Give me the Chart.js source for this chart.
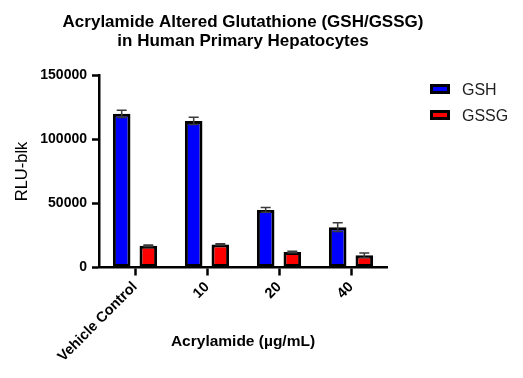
<!DOCTYPE html>
<html>
    <head>
        <title>Glutathione Chart</title>
        <meta charset="UTF-8">
        <style>
            body {
                margin: 0;
                background: white;
            }
            #chart-holder {
                position: relative;
                width: 523px;
                height: 378px;
            }
            #legend-holder {
                position: absolute;
                left: 430px;
                top: 84px;
                font-family: "Liberation Sans", Arial, sans-serif;
                font-size: 16px;
                color: #222;
            }
            .legend-item {
                position: relative;
                height: 26px;
            }
            .legend-box {
                position: absolute;
                left: 0;
                top: 0;
                width: 20px;
                height: 10px;
                border: 3px solid black;
                box-sizing: border-box;
            }
            .legend-text {
                position: absolute;
                left: 32px;
                top: -3px;
                white-space: nowrap;
            }
        </style>
    </head>
    <body>
        <div id="chart-holder">
            <canvas id="grafica-gsh" width="523" height="378"></canvas>
            <div id="legend-holder"></div>
        </div>

        <script src="https://cdn.jsdelivr.net/npm/chart.js@4.4.1/dist/chart.umd.min.js"></script>
        <script>
            // values
            var categories = ["Vehicle Control", "10", "20", "40"];
            var gshValues = [120000, 114500, 45000, 31500];
            var gshSd = [2900, 2900, 1800, 3400];
            var gssgValues = [17000, 18000, 12100, 9500];
            var gssgSd = [600, 500, 550, 1800];
            var yTicks = [0, 50000, 100000, 150000];

            Chart.defaults.font.family = "'Liberation Sans', Arial, sans-serif";
            Chart.defaults.color = "#000";

            // error bars (mean +/- SD) drawn on top of the bars
            var errorBars = {
                id: "errorBars",
                afterDatasetsDraw: function (chart) {
                    var ctx = chart.ctx;
                    var yScale = chart.scales.y;
                    ctx.save();
                    ctx.strokeStyle = "#3a3a3a";
                    ctx.lineWidth = 1.5;
                    chart.data.datasets.forEach(function (ds, di) {
                        var meta = chart.getDatasetMeta(di);
                        meta.data.forEach(function (bar, i) {
                            var hi = yScale.getPixelForValue(ds.data[i] + ds.sd[i]);
                            var lo = yScale.getPixelForValue(ds.data[i] - ds.sd[i]);
                            ctx.beginPath();
                            ctx.moveTo(bar.x, hi);
                            ctx.lineTo(bar.x, lo);
                            ctx.moveTo(bar.x - 5, hi);
                            ctx.lineTo(bar.x + 5, hi);
                            ctx.moveTo(bar.x - 5, lo);
                            ctx.lineTo(bar.x + 5, lo);
                            ctx.stroke();
                        });
                    });
                    ctx.restore();
                }
            };

            // html legend built from the datasets
            var htmlLegend = {
                id: "htmlLegend",
                afterUpdate: function (chart) {
                    var holder = document.getElementById("legend-holder");
                    holder.innerHTML = "";
                    chart.data.datasets.forEach(function (ds) {
                        var item = document.createElement("div");
                        item.className = "legend-item";
                        var box = document.createElement("span");
                        box.className = "legend-box";
                        box.style.background = ds.backgroundColor;
                        var text = document.createElement("span");
                        text.className = "legend-text";
                        text.textContent = ds.label;
                        item.appendChild(box);
                        item.appendChild(text);
                        holder.appendChild(item);
                    });
                }
            };

            var chartCtx = document.getElementById("grafica-gsh").getContext("2d");
            var gshChart = new Chart(chartCtx, {
                type: "bar",
                data: {
                    labels: categories,
                    datasets: [{
                            label: "GSH",
                            data: gshValues,
                            sd: gshSd,
                            backgroundColor: "#0000ff",
                            borderColor: "#000",
                            borderWidth: 3,
                            borderSkipped: false
                        }, {
                            label: "GSSG",
                            data: gssgValues,
                            sd: gssgSd,
                            backgroundColor: "#ff0000",
                            borderColor: "#000",
                            borderWidth: 3,
                            borderSkipped: false
                        }]
                },
                plugins: [errorBars, htmlLegend],
                options: {
                    responsive: false,
                    animation: false,
                    categoryPercentage: 0.74,
                    barPercentage: 0.66,
                    layout: {
                        padding: {left: 0, right: 37, top: 0, bottom: 0}
                    },
                    plugins: {
                        legend: {display: false},
                        tooltip: {enabled: false},
                        title: {
                            display: true,
                            text: ["Acrylamide Altered Glutathione (GSH/GSSG)", "in Human Primary Hepatocytes"],
                            color: "#000",
                            font: {size: 17, weight: "bold", lineHeight: 1.14},
                            padding: {top: 12.7, bottom: 24}
                        }
                    },
                    scales: {
                        x: {
                            offset: true,
                            afterFit: function (s) {
                                s.height = 110.5;
                            },
                            border: {display: true, color: "#000", width: 2.5},
                            grid: {
                                display: true,
                                offset: false,
                                drawOnChartArea: false,
                                drawTicks: true,
                                tickLength: 8,
                                tickWidth: 2.5,
                                tickColor: "#000"
                            },
                            ticks: {
                                minRotation: 45,
                                maxRotation: 45,
                                padding: 3,
                                font: {size: 14.5, weight: "bold"}
                            },
                            title: {
                                display: true,
                                text: "Acrylamide (µg/mL)",
                                font: {size: 15.5, weight: "bold", lineHeight: 1.2},
                                padding: {top: 0, bottom: 27}
                            }
                        },
                        y: {
                            min: 0,
                            max: 150000,
                            afterFit: function (s) {
                                s.width = 99;
                            },
                            afterBuildTicks: function (s) {
                                s.ticks = yTicks.map(function (v) {
                                    return {value: v};
                                });
                            },
                            border: {display: true, color: "#000", width: 2.5},
                            grid: {
                                display: true,
                                drawOnChartArea: false,
                                drawTicks: true,
                                tickLength: 7,
                                tickWidth: 2.5,
                                tickColor: "#000"
                            },
                            ticks: {
                                padding: 5,
                                font: {size: 14, weight: "bold"},
                                callback: function (v) {
                                    return String(v);
                                }
                            },
                            title: {
                                display: true,
                                text: "RLU-blk",
                                font: {size: 16.5, lineHeight: 1.2},
                                padding: {top: 12.5, bottom: 0}
                            }
                        },
                        // empty axis on the right, only keeps room for the legend
                        legendSpace: {
                            type: "linear",
                            position: "right",
                            border: {display: false},
                            grid: {display: false},
                            ticks: {display: false},
                            afterFit: function (s) {
                                s.width = 99;
                            }
                        }
                    }
                }
            });
        </script>
    </body>
</html>
